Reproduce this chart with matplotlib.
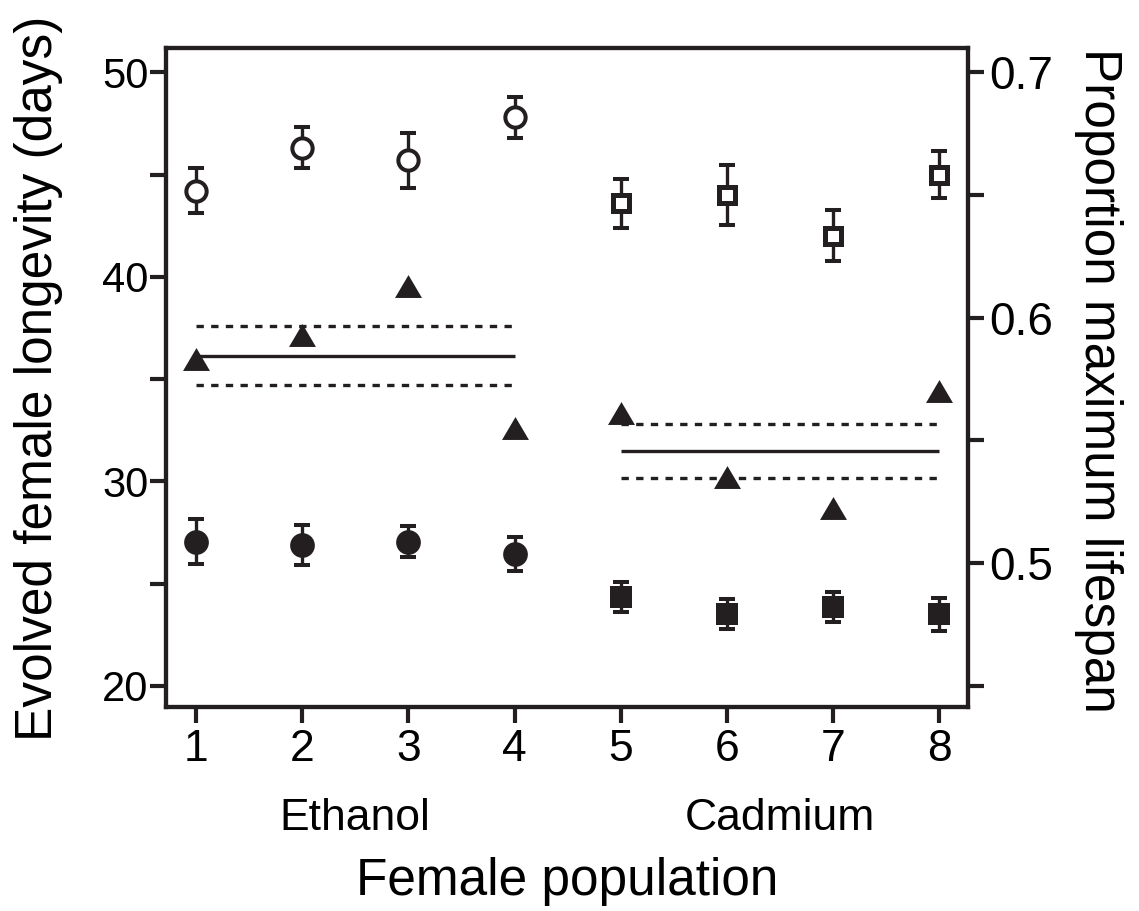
import numpy as np
import matplotlib.pyplot as plt
from matplotlib.ticker import MultipleLocator, FormatStrFormatter
from matplotlib.transforms import blended_transform_factory

plt.rcParams["font.family"] = ["Liberation Sans", "DejaVu Sans"]

INK = "#231f20"

# population index on x
ethanol_pop = [1, 2, 3, 4]
cadmium_pop = [5, 6, 7, 8]

# evolved female longevity (days), left axis
eth_open = [44.2, 46.3, 45.7, 47.8]
eth_open_err = [1.1, 1.0, 1.35, 1.0]
cad_open = [43.6, 44.0, 42.0, 45.0]
cad_open_err = [1.2, 1.45, 1.25, 1.15]

eth_filled = [27.05, 26.9, 27.05, 26.45]
eth_filled_err = [1.1, 0.97, 0.77, 0.83]
cad_filled = [24.35, 23.5, 23.85, 23.5]
cad_filled_err = [0.72, 0.74, 0.72, 0.8]

# proportion maximum lifespan, right axis
eth_prop = [0.583, 0.593, 0.613, 0.555]
cad_prop = [0.561, 0.535, 0.5225, 0.570]
eth_mean, eth_lo, eth_hi = 0.5846, 0.5725, 0.5967
cad_mean, cad_lo, cad_hi = 0.5456, 0.5346, 0.5566

tick_labels = ["1", "2", "3", "4", "5", "6", "7", "8"]
group_names = ["Ethanol", "Cadmium"]

fig = plt.figure(figsize=(11.39, 9.11), dpi=100)
ax = fig.add_axes([0.1457, 0.2239, 0.7042, 0.7231])

# error bars first, markers on top
eb = dict(fmt="none", ecolor=INK, elinewidth=2.4, capsize=6.1, capthick=2.9, zorder=2)
for x, y, e in [(ethanol_pop, eth_open, eth_open_err),
                (cadmium_pop, cad_open, cad_open_err),
                (ethanol_pop, eth_filled, eth_filled_err),
                (cadmium_pop, cad_filled, cad_filled_err)]:
    ax.errorbar(x, y, yerr=e, **eb)

ax.plot(ethanol_pop, eth_open, ls="none", marker="o", ms=14.6,
        mfc="white", mec=INK, mew=2.9, zorder=3)
ax.plot(cadmium_pop, cad_open, ls="none", marker="s", ms=12.0,
        mfc="white", mec=INK, mew=3.6, zorder=3)
ax.plot(ethanol_pop, eth_filled, ls="none", marker="o", ms=17.8,
        mfc=INK, mew=0, zorder=3)
ax.plot(cadmium_pop, cad_filled, ls="none", marker="s", ms=15.6,
        mfc=INK, mew=0, zorder=3)

ax.set_xlim(0.717, 8.27)
ax.set_ylim(18.97, 51.17)
ax.set_xticks(range(1, 9))
ax.set_xticklabels(tick_labels)
ax.yaxis.set_major_locator(MultipleLocator(10))
ax.yaxis.set_minor_locator(MultipleLocator(5))

ax2 = ax.twinx()
tri = [(-1, -0.85), (1, -0.85), (0, 0.85)]
ax2.plot(ethanol_pop + cadmium_pop, eth_prop + cad_prop, ls="none", marker=tri,
         ms=19.4, color=INK, mew=0)
ax2.hlines([eth_mean], ethanol_pop[0], ethanol_pop[-1], color=INK, lw=2.4)
ax2.hlines([eth_lo, eth_hi], ethanol_pop[0], ethanol_pop[-1], color=INK, lw=2.4,
           linestyles=(0, (2.2, 2.2)))
ax2.hlines([cad_mean], cadmium_pop[0], cadmium_pop[-1], color=INK, lw=2.4)
ax2.hlines([cad_lo, cad_hi], cadmium_pop[0], cadmium_pop[-1], color=INK, lw=2.4,
           linestyles=(0, (2.2, 2.2)))
ax2.set_ylim(0.4414, 0.7098)
ax2.yaxis.set_major_locator(MultipleLocator(0.1))
ax2.yaxis.set_minor_locator(MultipleLocator(0.05))
ax2.yaxis.set_major_formatter(FormatStrFormatter("%.1f"))

for a in (ax, ax2):
    for s in a.spines.values():
        s.set_linewidth(3.0)
        s.set_color(INK)
    a.tick_params(which="both", length=11.5, width=3.0, color=INK, labelcolor="black")
ax.tick_params(axis="y", which="both", labelsize=30, pad=1)
ax.tick_params(axis="x", labelsize=32, pad=4)
ax2.tick_params(axis="y", which="both", labelsize=33, pad=4)

ax.set_ylabel("Evolved female longevity (days)", fontsize=37,
              va="baseline", rotation_mode="anchor")
ax.yaxis.set_label_coords(52 / 1139, 1 - 378 / 911, transform=fig.transFigure)

ax2.set_ylabel("Proportion maximum lifespan", fontsize=37, rotation=270,
               va="baseline", ha="center", rotation_mode="anchor")
ax2.yaxis.set_label_coords(1085 / 1139, 1 - 380 / 911, transform=fig.transFigure)

ax.set_xlabel("Female population", fontsize=37, va="baseline")
ax.xaxis.set_label_coords(567 / 1139, 1 - 895 / 911, transform=fig.transFigure)

# treatment group names under the tick labels
group_tr = blended_transform_factory(ax.transData, fig.transFigure)
for name, pops in zip(group_names, [ethanol_pop, cadmium_pop]):
    ax.text(np.mean(pops), 1 - 830 / 911, name, fontsize=32, ha="center",
            va="baseline", transform=group_tr)

fig.savefig("out.png", dpi=100)
